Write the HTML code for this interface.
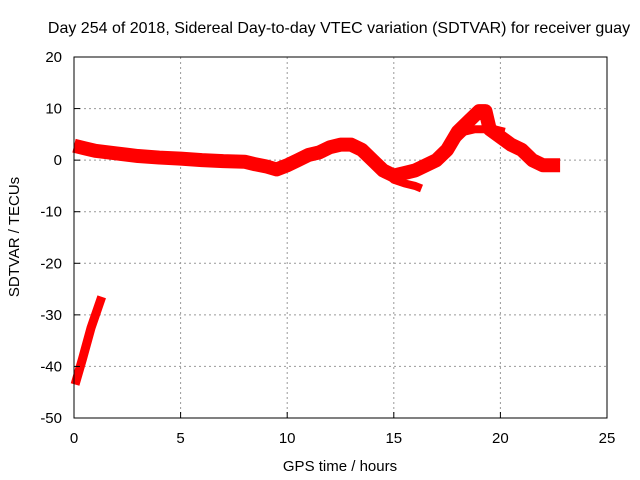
<!DOCTYPE html>
<html><head><meta charset="utf-8"><style>
body{margin:0;background:#fff;}
svg{display:block;font-family:"Liberation Sans",sans-serif;}
</style></head><body>
<svg id="chart" width="640" height="480" viewBox="0 0 640 480">
<rect width="640" height="480" fill="#fff"/>
<text x="339" y="33" font-size="16" text-anchor="middle">Day 254 of 2018, Sidereal Day-to-day VTEC variation (SDTVAR) for receiver guay</text>
<g id="grid"></g>
<g id="series"></g>
<rect x="74" y="57" width="533" height="361" fill="none" stroke="#000" stroke-width="1"/>
<g id="ticks"></g>
<text x="340" y="471" font-size="15" text-anchor="middle">GPS time / hours</text>
<text transform="translate(19,237) rotate(-90)" font-size="15" text-anchor="middle">SDTVAR / TECUs</text>
</svg>
<script>
const xTicks=[0,5,10,15,20,25];
const yTicks=[20,10,0,-10,-20,-30,-40,-50];
const mainT=[0,0.5,1,2,3,4,5,6,7,8,8.5,9,9.5,10,10.5,11,11.5,12,12.5,13,13.5,14,14.5,15,15.5,16,16.5,17,17.5,18,18.5,19,19.3,19.5,20,20.5,21,21.5,22,22.5,22.8];
const mainV=[2.8,2.3,1.8,1.3,0.8,0.5,0.3,0,-0.2,-0.3,-0.8,-1.2,-1.8,-1,0,1,1.5,2.5,3,3,2,0,-2,-3,-2.5,-2,-1,0,2,5.5,7.5,9.5,9.5,6,4.5,3,2,0,-1,-1,-1];
const lowT=[14.5,15,15.5,16,16.3];
const lowV=[-2,-3.8,-4.5,-5,-5.5];
const midT=[17.8,18.3,18.8,19.3,19.7,20.2];
const midV=[3.5,5.5,6,6,6,5.5];
const initT=[0.05,0.4,0.8,1.3];
const initV=[-43.5,-38.5,-32.5,-26.5];
const sx=t=>74+t*533/25, sy=v=>57+(20-v)*361/70;
const NS="http://www.w3.org/2000/svg";
const grid=document.getElementById('grid'),ticks=document.getElementById('ticks'),ser=document.getElementById('series');
xTicks.forEach(t=>{
  const x=sx(t);
  if(t>0&&t<25){const l=document.createElementNS(NS,'line');
  
  
  l.setAttribute('x1',x);l.setAttribute('x2',x);l.setAttribute('y1',57);l.setAttribute('y2',418);
  l.setAttribute('stroke','#999');l.setAttribute('stroke-dasharray','2,3');grid.appendChild(l);}
  const tk=document.createElementNS(NS,'line');
  
  
  tk.setAttribute('x1',x);tk.setAttribute('x2',x);tk.setAttribute('y1',418);tk.setAttribute('y2',412);tk.setAttribute('stroke','#000');ticks.appendChild(tk);
  const tx=document.createElementNS(NS,'text');
  
  
  tx.setAttribute('x',x);tx.setAttribute('y',443);tx.setAttribute('font-size','15');tx.setAttribute('text-anchor','middle');tx.textContent=t;ticks.appendChild(tx);
});
yTicks.forEach(v=>{
  const y=sy(v);
  if(v<20&&v>-50){const l=document.createElementNS(NS,'line');
  
  
  l.setAttribute('x1',74);l.setAttribute('x2',607);l.setAttribute('y1',y);l.setAttribute('y2',y);
  l.setAttribute('stroke','#999');l.setAttribute('stroke-dasharray','2,3');grid.appendChild(l);}
  const tk=document.createElementNS(NS,'line');
  
  
  tk.setAttribute('x1',74);tk.setAttribute('x2',80);tk.setAttribute('y1',y);tk.setAttribute('y2',y);tk.setAttribute('stroke','#000');ticks.appendChild(tk);
  const tx=document.createElementNS(NS,'text');
  
  
  tx.setAttribute('x',62);tx.setAttribute('y',y+5);tx.setAttribute('font-size','15');tx.setAttribute('text-anchor','end');tx.textContent=v;ticks.appendChild(tx);
});
function band(T,V,w,name){
  const p=document.createElementNS(NS,'polyline');
  
  
  p.setAttribute('points',T.map((t,i)=>sx(t)+','+sy(V[i])).join(' '));
  p.setAttribute('fill','none');p.setAttribute('stroke','#f00');p.setAttribute('stroke-width',w);
  p.setAttribute('stroke-linejoin','round');p.setAttribute('stroke-linecap','butt');
  ser.appendChild(p);
}
band(mainT,mainV,14,'sdtvar-main-band');
band(lowT,lowV,8,'sdtvar-low-branch');
band(midT,midV,8,'sdtvar-mid-branch');
band(initT,initV,9,'sdtvar-initial-segment');
</script>
</body></html>
